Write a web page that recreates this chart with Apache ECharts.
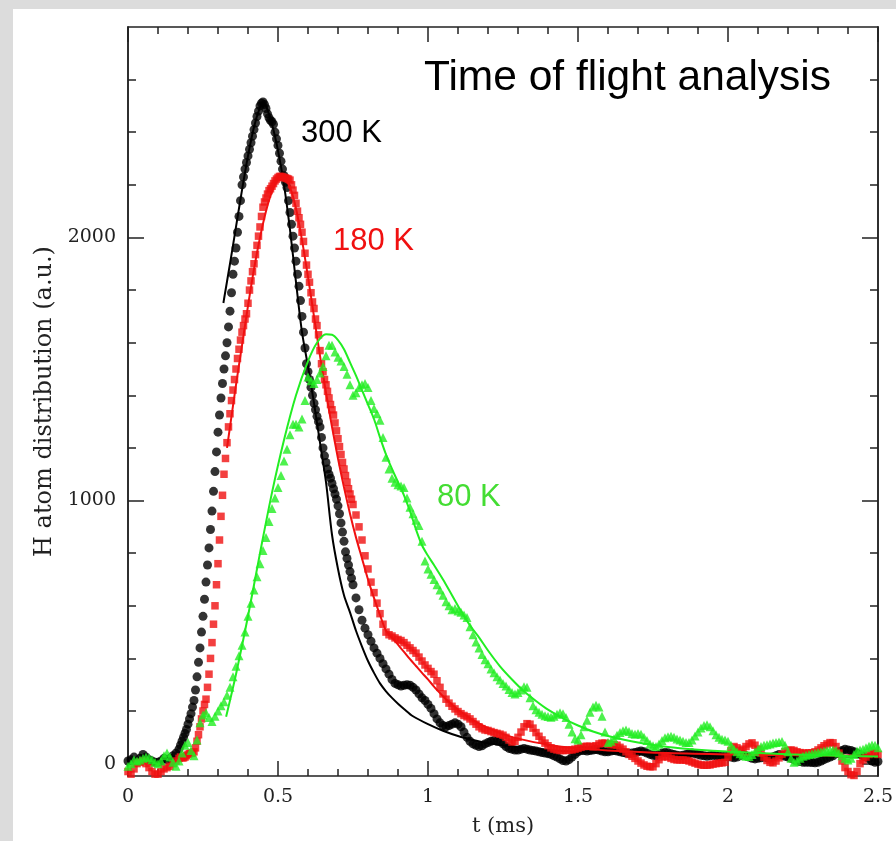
<!DOCTYPE html>
<html><head><meta charset="utf-8">
<script src="https://cdn.jsdelivr.net/npm/echarts@6/dist/echarts.min.js"></script>
<style>html,body{margin:0;padding:0;background:#fff}#c{width:896px;height:841px}</style>
</head><body><div id="c"></div>
<script>
// ---- axis ranges & ticks ----
const X_MIN = 0, X_MAX = 2.5, X_INTERVAL = 0.5;
const Y_MIN = -47, Y_MAX = 2800;
const yMajorTicks = [0, 1000, 2000];
const yMinorTicks = [200, 400, 600, 800, 1200, 1400, 1600, 1800, 2200, 2400, 2600];
const xName = 't (ms)';
const yName = 'H atom distribution (a.u.)';
const titleText = 'Time of flight analysis';
const labels = ['300 K', '180 K', '80 K'];

// ---- 300 K data (black circles) [t, value] ----
const data300 = [
[0,10],[0.01,15],[0.02,25],[0.03,10],[0.04,20],[0.05,35],[0.06,25],[0.07,15],[0.08,10],[0.09,5],[0.1,5],[0.11,10],[0.12,20],[0.13,15],[0.14,20],[0.15,30],[0.16,40],[0.17,55],
[0.175,70],[0.18,85],[0.185,100],[0.19,115],[0.195,130],[0.2,150],[0.205,170],[0.21,190],[0.215,215],[0.22,240],[0.225,280],[0.23,330],[0.235,385],[0.24,440],[0.245,500],[0.25,560],[0.255,625],[0.26,690],[0.265,755],[0.27,820],[0.275,890],[0.28,960],[0.285,1035],[0.29,1110],[0.295,1185],[0.3,1260],[0.305,1325],[0.31,1390],[0.315,1445],[0.32,1500],[0.325,1550],[0.33,1600],[0.335,1660],[0.34,1720],[0.345,1790],[0.35,1860],[0.355,1910],[0.36,1960],[0.365,2020],[0.37,2080],[0.375,2140],[0.38,2200],[0.385,2230],[0.39,2260],[0.395,2285],[0.4,2310],[0.405,2335],[0.41,2360],[0.415,2385],[0.42,2410],[0.425,2435],[0.43,2460],[0.435,2480],[0.44,2500],[0.445,2510],[0.45,2515],[0.455,2505],[0.46,2490],[0.465,2470],[0.47,2455],[0.475,2445],[0.48,2440],[0.485,2430],[0.49,2400],[0.495,2375],[0.5,2350],[0.505,2320],[0.51,2290],[0.515,2260],[0.52,2235],[0.525,2210],[0.53,2190],[0.535,2140],[0.54,2095],[0.545,2050],[0.55,2005],[0.555,1960],[0.56,1910],[0.565,1860],[0.57,1815],[0.575,1760],[0.58,1700],[0.585,1640],[0.59,1580],[0.595,1520],[0.6,1490],[0.605,1460],[0.61,1430],[0.615,1400],[0.62,1370],[0.625,1345],[0.63,1320],[0.635,1300],[0.64,1280],[0.645,1240],[0.65,1200],[0.655,1170],[0.66,1145],[0.665,1120],[0.67,1100],[0.675,1085],[0.68,1065],[0.685,1045],[0.69,1025],[0.695,1005],[0.7,980],[0.705,950],[0.71,915],[0.715,880],[0.72,845],[0.725,805],[0.73,780],[0.735,755],[0.74,730],[0.745,705],
[0.75,680],[0.76,630],[0.77,585],[0.78,545],[0.79,515],[0.8,490],[0.81,465],[0.82,440],[0.83,420],[0.84,400],[0.85,380],[0.86,360],[0.87,340],[0.88,320],[0.89,305],[0.9,300],[0.91,295],[0.92,298],[0.93,300],[0.94,298],[0.95,290],[0.96,280],[0.97,265],[0.98,250],[0.99,240],[1,225],[1.01,210],[1.02,190],[1.03,170],[1.04,155],[1.05,145],[1.06,140],[1.07,145],[1.08,150],[1.09,155],[1.1,150],[1.11,140],[1.12,120],[1.13,100],[1.14,85],[1.15,75],[1.16,70],[1.17,65],[1.18,68],[1.19,75],[1.2,80],[1.21,85],[1.22,88],[1.23,85],[1.24,84],[1.25,75],[1.26,65],[1.27,58],[1.28,55],[1.29,52],[1.3,52],[1.31,55],[1.32,58],[1.33,55],[1.34,52],[1.35,50],[1.36,48],[1.37,45],[1.38,42],[1.39,40],[1.4,38],[1.41,35],[1.42,30],[1.43,25],[1.44,18],[1.45,12],[1.46,10],[1.47,15],[1.48,25],[1.49,35],[1.5,45],[1.51,50],[1.52,50],[1.53,48],[1.54,50],[1.55,52],[1.56,55],[1.57,52],[1.58,48],[1.59,45],
[1.6,45],[1.61,48],[1.62,50],[1.63,48],[1.64,45],[1.65,42],[1.66,40],[1.67,38],[1.68,40],[1.69,42],[1.7,45],[1.71,48],[1.72,45],[1.73,40],[1.74,35],[1.75,32],[1.76,30],[1.77,35],[1.78,40],[1.79,42],[1.8,41],[1.81,38],[1.82,35],[1.83,32],[1.84,30],[1.85,32],[1.86,35],[1.87,38],[1.88,40],[1.89,38],[1.9,35],[1.91,32],[1.92,30],[1.93,28],[1.94,30],[1.95,32],[1.96,30],[1.97,28],[1.98,27],[1.99,27],[2,27],[2.01,25],[2.02,22],[2.03,25],[2.04,30],[2.05,35],[2.06,30],[2.07,25],[2.08,20],[2.09,18],[2.1,20],[2.11,22],[2.12,25],[2.13,22],[2.14,20],[2.15,25],[2.16,30],[2.17,35],[2.18,32],[2.19,28],[2.2,25],[2.21,20],[2.22,15],[2.23,10],[2.24,8],[2.25,5],[2.26,5],[2.27,5],[2.28,4],[2.29,3],[2.3,5],[2.31,10],[2.32,15],[2.33,20],[2.34,25],[2.35,30],[2.36,38],[2.37,45],[2.38,50],[2.39,55],[2.4,52],[2.41,50],[2.42,45],[2.43,40],[2.44,35],[2.45,30],[2.46,25],[2.47,18],[2.48,10],[2.49,5],[2.5,8]
];

// ---- 180 K data (red squares) ----
const data180 = [
[0,-30],[0.01,-40],[0.02,-20],[0.03,0],[0.04,5],[0.05,10],[0.06,0],[0.07,-15],[0.08,-30],[0.09,-40],[0.1,-40],[0.11,-30],[0.12,-20],[0.13,-15],[0.14,-10],[0.15,0],[0.16,10],[0.17,20],
[0.175,25],[0.18,22],[0.185,22],[0.19,25],[0.195,30],[0.2,35],[0.205,38],[0.21,40],[0.215,40],[0.22,45],[0.225,60],[0.23,85],[0.235,110],[0.24,140],[0.245,170],[0.25,200],[0.255,225],[0.26,245],[0.265,290],[0.27,340],[0.275,400],[0.28,460],[0.285,530],[0.29,600],[0.295,680],[0.3,760],[0.305,850],[0.31,940],[0.315,1020],[0.32,1100],[0.325,1160],[0.33,1220],[0.335,1280],[0.34,1330],[0.345,1380],[0.35,1420],[0.355,1460],[0.36,1500],[0.365,1540],[0.37,1575],[0.375,1610],[0.38,1640],[0.385,1665],[0.39,1690],[0.395,1710],[0.4,1750],[0.405,1800],[0.41,1835],[0.415,1870],[0.42,1900],[0.425,1935],[0.43,1970],[0.435,2005],[0.44,2040],[0.445,2080],[0.45,2115],[0.455,2135],[0.46,2150],[0.465,2165],[0.47,2178],[0.475,2185],[0.48,2195],[0.485,2205],[0.49,2215],[0.495,2222],[0.5,2228],[0.505,2232],[0.51,2232],[0.515,2230],[0.52,2228],[0.525,2226],[0.53,2224],[0.535,2222],[0.54,2218],[0.545,2200],[0.55,2180],[0.555,2160],[0.56,2130],[0.565,2100],[0.57,2075],[0.575,2050],[0.58,2020],[0.585,1985],[0.59,1940],[0.595,1895],[0.6,1860],[0.605,1830],[0.61,1790],[0.615,1755],[0.62,1730],[0.625,1690],[0.63,1665],[0.635,1630],[0.64,1570],[0.645,1520],[0.65,1490],[0.655,1460],[0.66,1440],[0.665,1415],[0.67,1390],[0.675,1365],[0.68,1345],[0.685,1325],[0.69,1295],[0.695,1265],[0.7,1235],[0.705,1205],[0.71,1175],[0.715,1145],[0.72,1120],[0.725,1095],[0.73,1070],[0.735,1045],[0.74,1025],[0.745,1005],
[0.75,985],[0.76,945],[0.77,900],[0.78,850],[0.79,790],[0.8,740],[0.81,690],[0.82,650],[0.83,610],[0.84,570],[0.85,530],[0.86,500],[0.87,490],[0.88,485],[0.89,478],[0.9,472],[0.91,468],[0.92,460],[0.93,450],[0.94,440],[0.95,430],[0.96,420],[0.97,405],[0.98,390],[0.99,375],[1,362],[1.01,350],[1.02,340],[1.03,315],[1.04,290],[1.05,265],[1.06,245],[1.07,230],[1.08,218],[1.09,208],[1.1,198],[1.11,190],[1.12,183],[1.13,178],[1.14,170],[1.15,160],[1.16,150],[1.17,140],[1.18,133],[1.19,128],[1.2,126],[1.21,122],[1.22,118],[1.23,115],[1.24,112],[1.25,108],[1.26,100],[1.27,90],[1.28,82],[1.29,85],[1.3,100],[1.31,120],[1.32,140],[1.33,152],[1.34,150],[1.35,135],[1.36,118],[1.37,104],[1.38,90],[1.39,78],[1.4,68],[1.41,60],[1.42,55],[1.43,52],[1.44,50],[1.45,50],[1.46,50],[1.47,52],[1.48,52],[1.49,55],[1.5,58],[1.51,62],[1.52,65],[1.53,66],[1.54,66],[1.55,64],[1.56,68],[1.57,75],[1.58,78],[1.59,78],[1.6,75],[1.61,72],[1.62,72],[1.63,70],[1.64,62],[1.65,55],[1.66,45],[1.67,35],[1.68,28],[1.69,20],[1.7,10],[1.71,2],[1.72,-5],[1.73,-10],[1.74,-12],[1.75,-12],[1.76,0],[1.77,15],[1.78,25],[1.79,28],[1.8,25],[1.81,20],[1.82,16],[1.83,14],[1.84,14],[1.85,14],[1.86,13],[1.87,10],[1.88,6],[1.89,2],[1.9,-2],[1.91,-5],[1.92,-6],[1.93,-6],[1.94,-5],[1.95,-2],[1.96,0],[1.97,2],[1.98,3],[1.99,5],[2,25],[2.01,50],[2.02,65],[2.03,60],[2.04,50],[2.05,55],[2.06,65],[2.07,75],[2.08,79],[2.09,70],[2.1,55],[2.11,40],[2.12,25],[2.13,12],[2.14,5],[2.15,3],[2.16,10],[2.17,22],[2.18,35],[2.19,45],[2.2,50],[2.21,52],[2.22,50],[2.23,45],[2.24,42],[2.25,40],[2.26,40],[2.27,41],[2.28,41],[2.29,45],[2.3,52],[2.31,60],[2.32,68],[2.33,75],[2.34,80],[2.35,79],[2.36,65],[2.37,40],[2.38,10],[2.39,-15],[2.4,-30],[2.41,-42],[2.42,-45],[2.43,-30],[2.44,0],[2.45,14],[2.46,25],[2.47,35],[2.48,40],[2.49,41],[2.5,35]
];

// ---- 80 K data (green triangles) ----
const data80 = [
[0,-10],[0.01,0],[0.02,15],[0.03,10],[0.04,14],[0.05,20],[0.06,25],[0.07,22],[0.08,15],[0.09,5],[0.1,0],[0.11,10],[0.12,30],[0.13,40],[0.14,25],[0.15,5],[0.16,-10],[0.17,10],[0.18,40],[0.19,70],[0.2,80],[0.21,50],[0.22,30],[0.23,90],[0.24,155],[0.25,185],[0.26,193],[0.27,175],[0.28,160],[0.29,180],[0.3,200],[0.31,220],[0.32,235],[0.33,260],[0.34,290],[0.35,330],[0.36,370],[0.37,410],[0.38,450],[0.39,500],[0.4,560],[0.41,610],[0.42,660],[0.43,710],[0.44,760],[0.45,810],[0.46,860],[0.47,920],[0.48,970],[0.49,1010],[0.5,1050],[0.51,1095],[0.52,1150],[0.53,1195],[0.54,1250],[0.55,1290],[0.56,1290],[0.57,1280],[0.58,1310],[0.59,1380],[0.6,1470],[0.61,1455],[0.62,1445],[0.63,1460],[0.64,1485],[0.65,1510],[0.66,1550],[0.67,1590],[0.68,1590],[0.69,1565],[0.7,1545],[0.71,1530],[0.72,1510],[0.73,1480],[0.74,1440],[0.75,1400],[0.76,1410],[0.77,1430],[0.78,1440],[0.79,1445],[0.8,1430],[0.81,1380],[0.82,1350],[0.83,1330],[0.84,1305],[0.85,1240],[0.86,1165],[0.87,1120],[0.88,1085],[0.89,1070],[0.9,1060],[0.91,1055],[0.92,1050],[0.93,1010],[0.94,975],[0.95,950],[0.96,925],[0.97,905],[0.98,845],[0.99,770],[1,740],[1.01,720],[1.02,700],[1.03,680],[1.04,660],[1.05,640],[1.06,615],[1.07,600],[1.08,585],[1.09,590],[1.1,580],[1.11,575],[1.12,565],[1.13,555],[1.14,520],[1.15,490],[1.16,462],[1.17,440],[1.18,415],[1.19,395],[1.2,380],[1.21,360],[1.22,345],[1.23,330],[1.24,318],[1.25,305],[1.26,295],[1.27,282],[1.28,270],[1.29,265],[1.3,270],[1.31,280],[1.32,292],[1.33,290],[1.34,250],[1.35,220],[1.36,205],[1.37,195],[1.38,188],[1.39,182],[1.4,179],[1.41,176],[1.42,180],[1.43,188],[1.44,193],[1.45,190],[1.46,175],[1.47,150],[1.48,120],[1.49,95],[1.5,90],[1.51,110],[1.52,140],[1.53,165],[1.54,195],[1.55,215],[1.56,222],[1.57,215],[1.58,180],[1.59,120],[1.6,80],[1.61,85],[1.62,95],[1.63,108],[1.64,118],[1.65,125],[1.66,128],[1.67,122],[1.68,115],[1.69,112],[1.7,115],[1.71,112],[1.72,100],[1.73,88],[1.74,75],[1.75,68],[1.76,65],[1.77,75],[1.78,88],[1.79,98],[1.8,102],[1.81,104],[1.82,100],[1.83,94],[1.84,90],[1.85,85],[1.86,80],[1.87,80],[1.88,90],[1.89,105],[1.9,120],[1.91,135],[1.92,145],[1.93,148],[1.94,140],[1.95,125],[1.96,110],[1.97,100],[1.98,93],[1.99,90],[2,85],[2.01,70],[2.02,55],[2.03,45],[2.04,38],[2.05,32],[2.06,28],[2.07,27],[2.08,35],[2.09,45],[2.1,55],[2.11,65],[2.12,70],[2.13,72],[2.14,75],[2.15,78],[2.16,80],[2.17,82],[2.18,84],[2.19,70],[2.2,45],[2.21,20],[2.22,5],[2.23,10],[2.24,20],[2.25,28],[2.26,32],[2.27,35],[2.28,38],[2.29,40],[2.3,42],[2.31,45],[2.32,48],[2.33,50],[2.34,52],[2.35,52],[2.36,50],[2.37,40],[2.38,30],[2.39,20],[2.4,14],[2.41,20],[2.42,35],[2.43,48],[2.44,52],[2.45,55],[2.46,60],[2.47,66],[2.48,71],[2.49,70],[2.5,60]
];

// ---- fit curves ----
const fit300 = [
[0.318,1751],[0.32,1765],[0.34,1900],[0.36,2040],[0.38,2180],[0.4,2310],[0.42,2420],[0.44,2495],[0.45,2512],[0.46,2500],[0.48,2430],[0.5,2330],[0.52,2200],[0.54,2030],[0.56,1830],[0.58,1640],[0.6,1510],[0.62,1370],[0.64,1220],[0.66,1070],[0.68,870],[0.7,740],[0.72,640],[0.74,575],[0.76,505],[0.78,445],[0.8,390],[0.82,345],[0.84,305],[0.86,275],[0.88,250],[0.9,228],[0.92,208],[0.95,180],[1,150],[1.05,125],[1.1,105],[1.15,90],[1.2,78],[1.3,62],[1.4,52],[1.5,45],[1.6,40],[1.8,33],[2,30],[2.2,28],[2.5,26]
];
const fit180 = [
[0.33,1200],[0.34,1280],[0.36,1440],[0.38,1590],[0.4,1740],[0.42,1880],[0.44,2000],[0.46,2100],[0.48,2175],[0.5,2220],[0.52,2225],[0.54,2190],[0.56,2110],[0.58,1990],[0.6,1850],[0.62,1700],[0.64,1550],[0.66,1410],[0.68,1280],[0.7,1160],[0.72,1050],[0.74,950],[0.76,860],[0.78,780],[0.8,700],[0.82,630],[0.84,565],[0.86,505],[0.88,480],[0.9,452],[0.92,425],[0.94,397],[0.96,371],[0.98,345],[1,320],[1.02,293],[1.04,268],[1.06,245],[1.08,225],[1.1,205],[1.15,165],[1.2,135],[1.25,112],[1.3,95],[1.4,72],[1.5,58],[1.6,50],[1.8,40],[2,35],[2.25,32],[2.5,30]
];
const fit80 = [
[0.327,178],[0.36,340],[0.4,560],[0.44,800],[0.48,1030],[0.52,1230],[0.56,1400],[0.6,1530],[0.63,1600],[0.66,1632],[0.68,1630],[0.7,1610],[0.72,1575],[0.74,1525],[0.76,1475],[0.78,1420],[0.8,1365],[0.82,1310],[0.84,1240],[0.86,1175],[0.88,1120],[0.9,1070],[0.92,1020],[0.94,960],[0.96,890],[0.98,830],[1,790],[1.02,755],[1.05,700],[1.08,640],[1.11,580],[1.14,525],[1.17,480],[1.2,430],[1.24,370],[1.28,320],[1.32,275],[1.36,238],[1.4,205],[1.45,172],[1.5,145],[1.55,122],[1.6,105],[1.7,80],[1.8,63],[1.9,53],[2,46],[2.2,36],[2.4,29],[2.5,27]
];

// ---- styling ----
const AX = '#222';
const SERIF = '"DejaVu Serif", serif';
const SANS = '"Liberation Sans", Arial, sans-serif';
const C_BLACK = '#000000', C_RED = '#f01010', C_GREEN = '#22ee22', C_GREEN_TXT = '#44dd33';

function xAxisDef(pos, showLabels) {
  return {
    type: 'value', min: X_MIN, max: X_MAX, interval: X_INTERVAL, position: pos,
    name: showLabels ? xName : '', nameLocation: 'middle', nameGap: 40,
    nameTextStyle: { fontFamily: SERIF, fontSize: 21, color: AX },
    axisLine: { show: true, onZero: false, lineStyle: { color: AX, width: 1.5 } },
    axisTick: { show: true, inside: true, length: 15, lineStyle: { color: AX, width: 1.5 } },
    minorTick: { show: true, splitNumber: 5, length: 7, lineStyle: { color: AX, width: 1.5 } },
    axisLabel: { show: showLabels, margin: 12, fontFamily: SERIF, fontSize: 19, color: AX, formatter: v => String(v) },
    splitLine: { show: false }, minorSplitLine: { show: false }
  };
}
function yAxisDef(pos, ticks, len, showLabels) {
  return {
    type: 'value', min: Y_MIN, max: Y_MAX, position: pos, offset: 0,
    name: showLabels ? yName : '', nameLocation: 'middle', nameGap: 66,
    nameTextStyle: { fontFamily: SERIF, fontSize: 24, color: AX },
    axisLine: { show: true, onZero: false, lineStyle: { color: AX, width: 1.5 } },
    axisTick: { show: true, inside: true, length: len, customValues: ticks, lineStyle: { color: AX, width: 1.5 } },
    axisLabel: showLabels ? { show: true, customValues: ticks, margin: 12, fontFamily: SERIF, fontSize: 19, color: AX, formatter: v => String(v) } : { show: false },
    splitLine: { show: false }
  };
}

const chart = echarts.init(document.getElementById('c'), null, { renderer: 'canvas' });
chart.setOption({
  animation: false,
  backgroundColor: '#ffffff',
  grid: { left: 128, right: 18, top: 27, bottom: 65, containLabel: false, outerBoundsMode: 'none' },
  xAxis: [xAxisDef('bottom', true), xAxisDef('top', false)],
  yAxis: [
    yAxisDef('left', yMajorTicks, 16, true),
    yAxisDef('left', yMinorTicks, 8, false),
    yAxisDef('right', yMajorTicks, 16, false),
    yAxisDef('right', yMinorTicks, 8, false)
  ],
  series: [
    { type: 'scatter', data: data300, symbol: 'circle', symbolSize: 9, itemStyle: { color: C_BLACK }, z: 2 },
    { type: 'line', data: fit300, showSymbol: false, smooth: 0.3, lineStyle: { color: C_BLACK, width: 2 }, z: 3 },
    { type: 'scatter', data: data180, symbol: 'rect', symbolSize: 7.5, itemStyle: { color: C_RED }, z: 4 },
    { type: 'line', data: fit180, showSymbol: false, smooth: 0.3, lineStyle: { color: C_RED, width: 2 }, z: 5 },
    { type: 'scatter', data: data80, symbol: 'triangle', symbolSize: 9, itemStyle: { color: C_GREEN }, z: 6 },
    { type: 'line', data: fit80, showSymbol: false, smooth: 0.3, lineStyle: { color: C_GREEN, width: 2 }, z: 7 }
  ],
  graphic: [
    { type: 'rect', shape: { x: 0, y: 0, width: 896, height: 9 }, style: { fill: '#dcdcdc' }, silent: true },
    { type: 'rect', shape: { x: 0, y: 0, width: 13, height: 841 }, style: { fill: '#dcdcdc' }, silent: true },
    { type: 'text', x: 424, y: 78, style: { text: titleText, font: '42.5px ' + SANS, fill: '#000', verticalAlign: 'middle' }, z: 20 },
    { type: 'text', x: 301, y: 133, style: { text: labels[0], font: '31px ' + SANS, fill: '#000', verticalAlign: 'middle' }, z: 20 },
    { type: 'text', x: 333, y: 241, style: { text: labels[1], font: '31px ' + SANS, fill: C_RED, verticalAlign: 'middle' }, z: 20 },
    { type: 'text', x: 437, y: 497, style: { text: labels[2], font: '31px ' + SANS, fill: C_GREEN_TXT, verticalAlign: 'middle' }, z: 20 }
  ]
});
</script></body></html>
